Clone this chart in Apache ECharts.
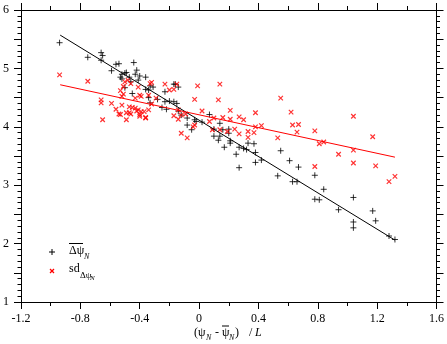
<!DOCTYPE html>
<html><head><meta charset="utf-8">
<script src="https://cdn.jsdelivr.net/npm/echarts@6/dist/echarts.min.js"></script>
<style>html,body{margin:0;padding:0;background:#fff}#c{width:447px;height:344px}</style>
</head><body><div id="c"></div>
<script>
// mean of Δψ_N (black +)
var meanPts = [
[-0.94,5.44],[-0.75,5.19],[-0.66,5.27],[-0.65,5.22],[-0.66,5.14],[-0.56,5.07],[-0.54,5.08],[-0.59,4.96],
[-0.44,5.10],[-0.52,4.90],[-0.50,4.92],[-0.49,4.93],[-0.42,4.97],[-0.47,4.85],[-0.36,4.85],[-0.46,4.77],
[-0.41,4.80],[-0.50,4.67],[-0.34,4.63],[-0.34,4.50],[-0.53,4.85],[-0.43,4.90],[-0.36,4.64],[-0.31,4.68],
[-0.33,4.70],[-0.23,4.60],[-0.17,4.73],[-0.14,4.68],[-0.16,4.73],[-0.33,4.41],[-0.23,4.43],[-0.20,4.44],
[-0.17,4.43],[-0.15,4.40],[-0.22,4.30],[-0.14,4.27],[-0.12,4.20],[-0.08,4.15],[0.07,4.21],[-0.03,4.12],
[-0.02,4.09],[-0.08,4.03],[-0.05,3.95],[0.02,4.08],[0.14,4.06],[0.10,3.96],[0.16,3.95],[0.20,3.96],
[0.20,3.89],[0.10,3.84],[0.14,3.84],[0.13,3.77],[0.17,3.65],[0.21,3.76],[0.21,3.72],[0.25,3.53],
[0.27,3.65],[0.30,3.63],[0.33,3.72],[0.37,3.71],[0.32,3.61],[0.38,3.56],[0.42,3.43],[0.38,3.39],
[0.27,3.30],[0.55,3.59],[0.61,3.42],[0.53,3.16],[0.67,3.31],[0.63,3.06],[0.66,3.06],[0.78,3.17],
[0.84,2.93],[0.78,2.76],[0.81,2.75],[1.04,2.79],[0.94,2.58],[1.17,2.56],[1.04,2.37],[1.19,2.39],
[1.04,2.27],[1.28,2.13],[1.32,2.07],[-0.40,4.87],[-0.52,4.82],[-0.45,4.57],[-0.28,4.47],[-0.25,4.33]
];
// sd of Δψ_N (red x)
var sdPts = [
[-0.94,4.89],[-0.75,4.78],[-0.66,4.46],[-0.66,4.41],[-0.59,4.40],[-0.56,4.30],[-0.54,4.22],[-0.52,4.37],
[-0.47,4.34],[-0.45,4.33],[-0.43,4.32],[-0.41,4.29],[-0.47,4.24],[-0.37,4.26],[-0.34,4.29],[-0.40,4.18],
[-0.36,4.16],[-0.51,4.69],[-0.53,4.62],[-0.50,4.77],[-0.48,4.80],[-0.52,4.52],[-0.51,4.56],[-0.43,4.49],
[-0.41,4.68],[-0.40,4.54],[-0.34,4.54],[-0.33,4.74],[-0.46,4.74],[-0.65,4.12],[-0.53,4.21],[-0.49,4.24],
[-0.49,4.12],[-0.46,4.22],[-0.40,4.21],[-0.39,4.26],[-0.36,4.15],[-0.42,4.27],[-0.32,4.76],[-0.23,4.73],
[-0.20,4.63],[-0.17,4.64],[-0.15,4.73],[-0.01,4.70],[0.14,4.73],[-0.29,4.49],[-0.39,4.52],[-0.03,4.47],
[0.13,4.46],[0.55,4.49],[0.21,4.28],[0.02,4.27],[-0.14,4.29],[0.38,4.24],[-0.32,4.39],[-0.17,4.19],
[-0.12,4.20],[0.27,4.17],[0.16,4.16],[0.10,4.15],[0.21,4.13],[0.62,4.25],[1.04,4.18],[-0.14,4.13],
[-0.09,4.22],[0.07,4.09],[-0.12,3.89],[-0.08,3.81],[-0.04,4.00],[-0.03,4.03],[0.30,4.12],[0.09,3.95],
[0.14,3.95],[0.19,3.92],[0.24,3.96],[0.27,3.88],[0.33,3.92],[0.37,3.90],[0.33,3.82],[0.38,4.00],
[0.42,4.02],[0.53,3.81],[0.63,4.03],[0.67,4.04],[0.66,3.91],[0.78,3.93],[0.81,3.71],[0.84,3.74],
[1.17,3.83],[0.94,3.53],[1.04,3.60],[0.78,3.32],[1.04,3.38],[1.19,3.33],[1.28,3.06],[1.32,3.15]
];
// fitted lines (end points)
var meanFit = [[-0.936,5.57],[1.32,2.06]];
var sdFit = [[-0.936,4.72],[1.32,3.48]];
var xRange = [-1.2, 1.6];
var yRange = [1, 6];

var F = '"Liberation Serif", "DejaVu Serif", serif';
var chart = echarts.init(document.getElementById('c'));
function xAx(pos, showLabel) {
  return {
    type: 'value', position: pos, min: xRange[0], max: xRange[1], interval: 0.4,
    axisLine: {show: true, onZero: false, lineStyle: {color: '#000', width: 1}},
    axisTick: {show: true, inside: false, length: 7, lineStyle: {color: '#000'}},
    minorTick: {show: true, splitNumber: 2, length: 4, lineStyle: {color: '#000'}},
    splitLine: {show: false}, minorSplitLine: {show: false},
    axisLabel: {show: showLabel, margin: 11, color: '#000', fontFamily: F, fontSize: 12,
      formatter: function (v) { return String(Math.round(v * 10) / 10); }}
  };
}
function yAx(pos, showLabel) {
  return {
    type: 'value', position: pos, min: yRange[0], max: yRange[1], interval: 0.5,
    axisLine: {show: true, onZero: false, lineStyle: {color: '#000', width: 1}},
    axisTick: {show: true, inside: false, length: 7, lineStyle: {color: '#000'}},
    minorTick: {show: true, splitNumber: 5, length: 3.5, lineStyle: {color: '#000'}},
    splitLine: {show: false}, minorSplitLine: {show: false},
    axisLabel: {show: showLabel, margin: 12, color: '#000', fontFamily: F, fontSize: 12,
      formatter: function (v) { return Math.abs(v - Math.round(v)) < 1e-6 ? String(Math.round(v)) : ''; }}
  };
}
var plus = 'path://M0,5L10,5M5,0L5,10';
var cross = 'path://M0,0L10,10M10,0L0,10';
chart.setOption({
  animation: false,
  backgroundColor: '#fff',
  grid: {left: 19, right: 10, top: 10, bottom: 42, containLabel: false},
  xAxis: [xAx('bottom', true), xAx('top', false)],
  yAxis: [yAx('left', true), yAx('right', false)],
  series: [
    {type: 'scatter', data: meanPts, symbol: plus, symbolSize: 6,
      itemStyle: {color: 'rgba(0,0,0,0)', borderColor: '#000', borderWidth: 1}},
    {type: 'scatter', data: sdPts, symbol: cross, symbolSize: 4.5,
      itemStyle: {color: 'rgba(0,0,0,0)', borderColor: '#ff0000', borderWidth: 1.2}},
    {type: 'line', data: meanFit, symbol: 'none', lineStyle: {color: '#000', width: 1}},
    {type: 'line', data: sdFit, symbol: 'none', lineStyle: {color: '#ff0000', width: 1}}
  ],
  graphic: [
    // legend markers
    {type: 'line', shape: {x1: 49, y1: 252, x2: 55, y2: 252}, style: {stroke: '#000', lineWidth: 1}},
    {type: 'line', shape: {x1: 52, y1: 249, x2: 52, y2: 255}, style: {stroke: '#000', lineWidth: 1}},
    {type: 'line', shape: {x1: 50, y1: 269, x2: 54, y2: 273}, style: {stroke: '#ff0000', lineWidth: 1.2}},
    {type: 'line', shape: {x1: 54, y1: 269, x2: 50, y2: 273}, style: {stroke: '#ff0000', lineWidth: 1.2}},
    // legend text 1
    {type: 'text', x: 69, y: 251, style: {text: 'Δψ', font: '12px ' + F, fill: '#000', textVerticalAlign: 'middle', verticalAlign: 'middle'}},
    {type: 'line', shape: {x1: 69, y1: 243.5, x2: 83, y2: 243.5}, style: {stroke: '#000', lineWidth: 1}},
    {type: 'text', x: 84, y: 257, style: {text: 'N', font: 'italic 8px ' + F, fill: '#000', textVerticalAlign: 'middle', verticalAlign: 'middle'}},
    // legend text 2
    {type: 'text', x: 69, y: 269, style: {text: 'sd', font: '12px ' + F, fill: '#000', textVerticalAlign: 'middle', verticalAlign: 'middle'}},
    {type: 'text', x: 80, y: 276, style: {text: 'Δψ', font: '9px ' + F, fill: '#000', textVerticalAlign: 'middle', verticalAlign: 'middle'}},
    {type: 'text', x: 90, y: 278, style: {text: 'N', font: 'italic 7px ' + F, fill: '#000', textVerticalAlign: 'middle', verticalAlign: 'middle'}},
    // x axis title
    {type: 'text', x: 194, y: 333, style: {text: '(ψ', font: '12px ' + F, fill: '#000', textVerticalAlign: 'middle', verticalAlign: 'middle'}},
    {type: 'text', x: 206, y: 338, style: {text: 'N', font: 'italic 8px ' + F, fill: '#000', textVerticalAlign: 'middle', verticalAlign: 'middle'}},
    {type: 'text', x: 215, y: 333, style: {text: '-', font: '12px ' + F, fill: '#000', textVerticalAlign: 'middle', verticalAlign: 'middle'}},
    {type: 'text', x: 222, y: 333, style: {text: 'ψ', font: '12px ' + F, fill: '#000', textVerticalAlign: 'middle', verticalAlign: 'middle'}},
    {type: 'line', shape: {x1: 222, y1: 326, x2: 229, y2: 326}, style: {stroke: '#000', lineWidth: 1}},
    {type: 'text', x: 229, y: 338, style: {text: 'N', font: 'italic 8px ' + F, fill: '#000', textVerticalAlign: 'middle', verticalAlign: 'middle'}},
    {type: 'text', x: 235, y: 333, style: {text: ')', font: '12px ' + F, fill: '#000', textVerticalAlign: 'middle', verticalAlign: 'middle'}},
    {type: 'text', x: 249, y: 333, style: {text: '/', font: '12px ' + F, fill: '#000', textVerticalAlign: 'middle', verticalAlign: 'middle'}},
    {type: 'text', x: 255, y: 333, style: {text: 'L', font: 'italic 12px ' + F, fill: '#000', textVerticalAlign: 'middle', verticalAlign: 'middle'}}
  ]
});
</script></body></html>
